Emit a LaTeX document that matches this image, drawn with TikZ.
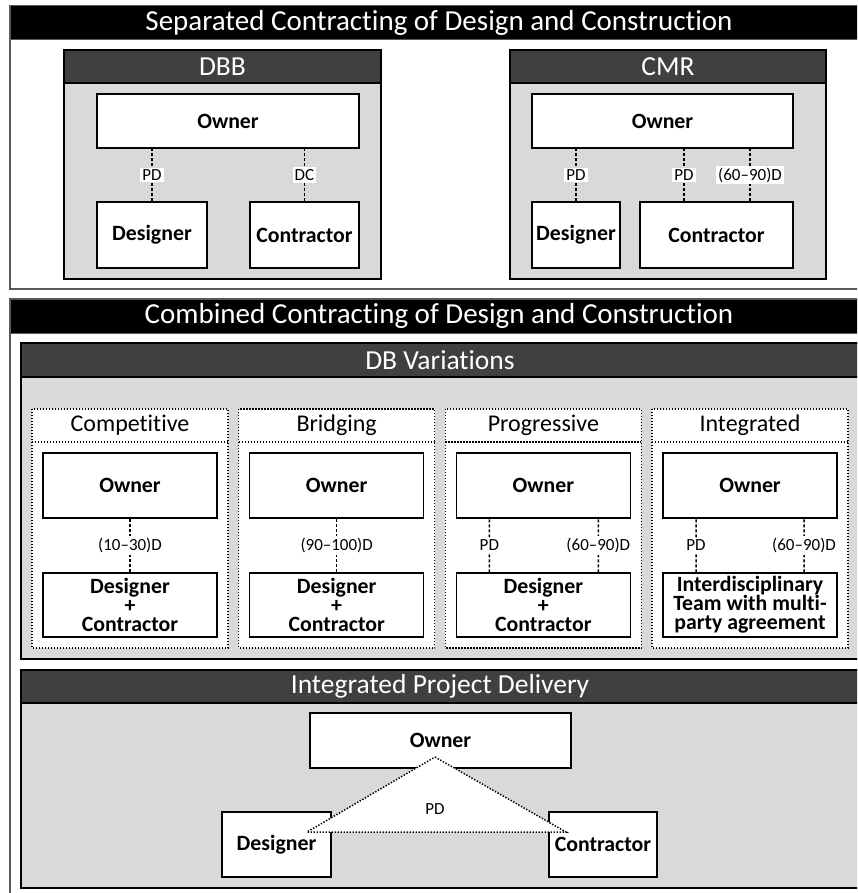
\documentclass[tikz,border=0pt]{standalone}
\usepackage{fontspec}
\setmainfont[Ligatures=NoCommon]{Carlito}
\definecolor{panelgray}{HTML}{595959}
\definecolor{bodygray}{HTML}{D9D9D9}
\definecolor{hdrgray}{HTML}{404040}
\begin{document}
\begin{tikzpicture}[x=1pt,y=-1pt,
  panel/.style={draw=panelgray,line width=2pt,fill=white},
  hdrbar/.style={fill=black,draw=panelgray,line width=1pt},
  hdrtext/.style={text=white,font=\fontsize{29}{32}\selectfont,inner sep=0pt},
  subbox/.style={draw=black,line width=1.5pt,fill=bodygray},
  subhdr/.style={draw=black,line width=1.5pt,fill=hdrgray},
  subtext/.style={text=white,font=\fontsize{27.5}{32}\selectfont,inner sep=0pt},
  colbox/.style={draw=black,line width=1.4pt,dash pattern=on 1.4pt off 1.6pt,fill=white},
  coltext/.style={font=\fontsize{24}{28}\selectfont,inner sep=0pt},
  wbox/.style={draw=black,line width=1.5pt,fill=white,font=\bfseries\fontsize{21.8}{19}\selectfont,align=center,inner sep=0pt},
  conn/.style={draw=black,line width=1.5pt,dash pattern=on 3pt off 2pt},
  lbl/.style={fill=white,font=\fontsize{17}{19}\selectfont,inner sep=2pt},
  tri/.style={draw=black,line width=1.5pt,dash pattern=on 1.4pt off 1.6pt}
]
\useasboundingbox (0,0) rectangle (857,893);
\clip (0,0) rectangle (857,893);

% ---------- Panel 1 ----------
\draw[panel] (10,6) rectangle (870,289);
\draw[hdrbar] (10,6) rectangle (870,40);
\node[hdrtext] (h1) at (439,23) {Separated Contracting of Design and Construction};

% DBB
\draw[subbox] (64,50) rectangle (381,279);
\draw[subhdr] (64,50) rectangle (381,83);
\node[subtext] (dbbT) at (222.5,66.5) {DBB};
\node[wbox,minimum width=262pt,minimum height=54pt] (dbbO) at (228,121) {Owner};
\node[wbox,minimum width=110pt,minimum height=66pt] (dbbD) at (152,235) {Designer};
\node[wbox,minimum width=109pt,minimum height=66pt] (dbbC) at (304.5,235) {Contractor};
\draw[conn] (dbbD.north) -- (dbbD.north |- dbbO.south) node[lbl,midway] (l1) {PD};
\draw[conn] (dbbC.north) -- (dbbC.north |- dbbO.south) node[lbl,midway] (l2) {DC};

% CMR
\draw[subbox] (510,50) rectangle (826,279);
\draw[subhdr] (510,50) rectangle (826,83);
\node[subtext] (cmrT) at (668,66.5) {CMR};
\node[wbox,minimum width=261pt,minimum height=54pt] (cmrO) at (662.5,121) {Owner};
\node[wbox,minimum width=88pt,minimum height=66pt] (cmrD) at (576,235) {Designer};
\node[wbox,minimum width=153pt,minimum height=66pt] (cmrC) at (716.5,235) {Contractor};
\draw[conn] (cmrD.north) -- (cmrD.north |- cmrO.south) node[lbl,midway] (l3) {PD};
\draw[conn] ([xshift=-32.5pt]cmrC.north) -- ([xshift=-32.5pt]cmrC.north |- cmrO.south) node[lbl,midway] (l4) {PD};
\draw[conn] ([xshift=33.5pt]cmrC.north) -- ([xshift=33.5pt]cmrC.north |- cmrO.south) node[lbl,midway] (l5) {(60–90)D};

% ---------- Panel 2 ----------
\draw[panel] (10,299) rectangle (870,905);
\draw[hdrbar] (10,299) rectangle (870,333);
\node[hdrtext] (h2) at (439,316) {Combined Contracting of Design and Construction};

% DB Variations
\draw[subbox] (21,343) rectangle (860,659);
\draw[subhdr] (21,343) rectangle (860,377);
\node[subtext] (dbT) at (440,360) {DB Variations};

\foreach \i/\t in {0/Competitive,1/Bridging,2/Progressive,3/Integrated}{
  \pgfmathsetmacro{\L}{32+206.67*\i}
  \pgfmathsetmacro{\C}{\L+98}
  \draw[colbox] (\L,409) rectangle ({\L+196},648);
  \draw[colbox,fill=none] (\L,442) -- ({\L+196},442);
  \node[coltext] (ct\i) at (\C,425.5) {\t};
  \node[wbox,minimum width=174pt,minimum height=65pt] (own\i) at (\C,485.5) {Owner};
}
\node[wbox,minimum width=174pt,minimum height=64pt] (dc0) at (130,605) {Designer\\+\\Contractor};
\node[wbox,minimum width=174pt,minimum height=64pt] (dc1) at (336.67,605) {Designer\\+\\Contractor};
\node[wbox,minimum width=174pt,minimum height=64pt] (dc2) at (543.33,605) {Designer\\+\\Contractor};
\node[wbox,minimum width=174pt,minimum height=64pt] (dc3) at (750,605) {Interdisciplinary\\Team with multi-\\party agreement};

\draw[conn] (dc0.north) -- (own0.south) node[lbl,midway] (m1) {(10–30)D};
\draw[conn] (dc1.north) -- (own1.south) node[lbl,midway] (m2) {(90–100)D};
\draw[conn] ([xshift=-54pt]dc2.north) -- ([xshift=-54pt]own2.south) node[lbl,midway] (m3) {PD};
\draw[conn] ([xshift=55pt]dc2.north) -- ([xshift=55pt]own2.south) node[lbl,midway] (m4) {(60–90)D};
\draw[conn] ([xshift=-54pt]dc3.north) -- ([xshift=-54pt]own3.south) node[lbl,midway] (m5) {PD};
\draw[conn] ([xshift=54pt]dc3.north) -- ([xshift=54pt]own3.south) node[lbl,midway] (m6) {(60–90)D};

% IPD
\draw[subbox] (21,670) rectangle (860,888);
\draw[subhdr] (21,670) rectangle (860,703);
\node[subtext] (ipdT) at (440,686.5) {Integrated Project Delivery};
\node[wbox,minimum width=261pt,minimum height=55pt] (ipdO) at (440.5,740.5) {Owner};
\node[wbox,minimum width=109pt,minimum height=65pt] (ipdD) at (276.5,844.5) {Designer};
\node[wbox,minimum width=108pt,minimum height=65pt] (ipdC) at (603,844.5) {Contractor};
\coordinate (apex) at (435,757);
\coordinate (tl) at (307,832);
\coordinate (tr) at (566,832);
\fill[white] (apex) -- (tr) -- (tl) -- cycle;
\draw[tri] (apex) -- (tr) -- (tl) -- cycle;
\node[font=\fontsize{17}{19}\selectfont] (ipdL) at (435,809) {PD};
\end{tikzpicture}
\end{document}
